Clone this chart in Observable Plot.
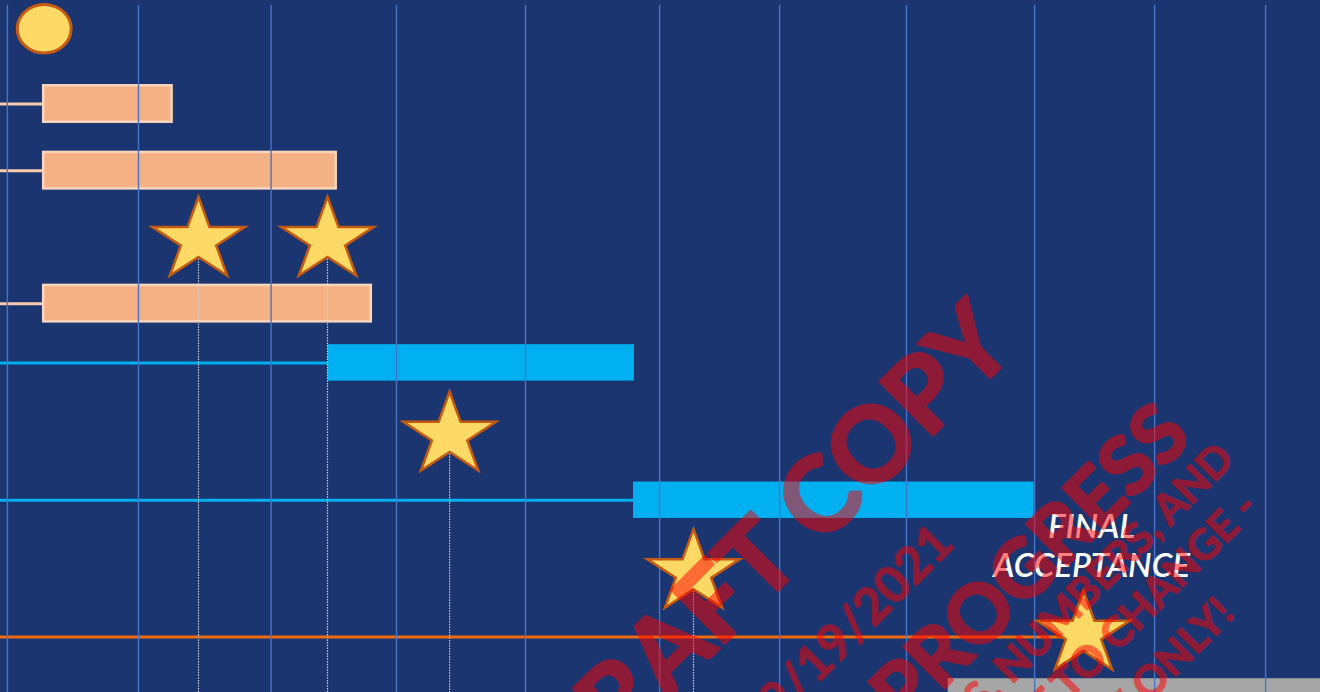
<!DOCTYPE html>
<html>
<head>
<meta charset="utf-8">
<script src="https://cdn.jsdelivr.net/npm/d3@7"></script>
<script src="https://cdn.jsdelivr.net/npm/@observablehq/plot@0.6"></script>
<style>
  html, body { margin: 0; padding: 0; background: #1b3570; overflow: hidden; }
  #chart svg { display: block; overflow: hidden; }
</style>
</head>
<body>
<div id="chart"></div>
<script>
// ---- data (x in weeks, y in timeline rows) ----
const gridWeeks = [0.23, 4.6, 9.02, 13.2, 17.5, 21.97, 25.97, 30.2, 34.47, 38.47, 42.17];

const taskNames = ["Task A", "Task B", "Task C", "Phase 1", "Phase 2"];
const taskStart = [1.44, 1.44, 1.44, 10.92, 21.1];
const taskEnd   = [5.72, 11.19, 12.36, 21.13, 34.45];
const taskRow   = [1.545, 2.54, 4.525, 5.41, 7.46];
const taskKind  = ["prep", "prep", "prep", "build", "build"];

const kickoffX = [1.457];
const kickoffRow = [0.422];

const starX    = [6.6, 10.9, 14.97, 23.1, 36.1];
const starRow  = [3.58, 3.58, 6.49, 8.54, 9.46];
const starDrop = [true, true, true, true, false];

const baselineStart = [0];
const baselineEnd   = [36.1];
const baselineRow   = [9.503];

const footerStart = [31.59];
const footerEnd = [44];
const footerRow1 = [10.124];
const footerRow2 = [10.33];

const labelText = ["FINAL\nACCEPTANCE"];
const labelX = [36.37];
const labelRow = [8.13];

const wmText = ["DRAFT COPY", "09/19/2021", "WORK IN PROGRESS", "DATES, NUMBERS, AND", "SUBJECT TO CHANGE -", "FOR REVIEW ONLY!"];
const wmX    = [33.17, 31.47, 39.17, 40.87, 41.67, 40.87];
const wmY    = [4.85, 7.97, 6.27, 6.73, 7.46, 9.04];
const wmSize = [104, 50, 80, 42, 42, 42];

// ---- build tables ----
const tasks = taskNames.map((name, i) => ({name, start: taskStart[i], end: taskEnd[i], row: taskRow[i], kind: taskKind[i]}));
const kickoff = kickoffX.map((x, i) => ({x, row: kickoffRow[i]}));
const stars = starX.map((x, i) => ({x, row: starRow[i], drop: starDrop[i]}));
const baseline = baselineStart.map((s, i) => ({start: s, end: baselineEnd[i], row: baselineRow[i]}));
const footer = footerStart.map((s, i) => ({start: s, end: footerEnd[i], r1: footerRow1[i], r2: footerRow2[i]}));
const labels = labelText.map((t, i) => ({text: t, x: labelX[i], row: labelRow[i]}));
const watermark = wmText.map((t, i) => ({text: t, x: wmX[i], row: wmY[i], size: wmSize[i]}));

// ---- custom symbols ----
const starSymbol = {
  draw(context, size) {
    const R = Math.sqrt(size / Math.PI);
    const sx = 1.12;
    for (let i = 0; i < 10; i++) {
      const a = -Math.PI / 2 + i * Math.PI / 5;
      const r = i % 2 === 0 ? R : R * 0.382;
      const px = Math.cos(a) * r * sx, py = Math.sin(a) * r;
      if (i === 0) context.moveTo(px, py); else context.lineTo(px, py);
    }
    context.closePath();
  }
};
const ellipseSymbol = {
  draw(context, size) {
    const R = Math.sqrt(size / Math.PI);
    const rx = R * 1.11, ry = R;
    const k = 0.5523;
    context.moveTo(rx, 0);
    context.bezierCurveTo(rx, k * ry, k * rx, ry, 0, ry);
    context.bezierCurveTo(-k * rx, ry, -rx, k * ry, -rx, 0);
    context.bezierCurveTo(-rx, -k * ry, -k * rx, -ry, 0, -ry);
    context.bezierCurveTo(k * rx, -ry, rx, -k * ry, rx, 0);
    context.closePath();
  }
};

const kindFill = {prep: "#f4b183", build: "#00b0f0"};
const kindStroke = {prep: "#fbd5bd", build: "#00b0f0"};
const kindLine = {prep: "#f8cbad", build: "#00b0f0"};

const chart = Plot.plot({
  width: 1320,
  height: 692,
  margin: 0,
  style: {background: "#1b3570", overflow: "hidden"},
  x: {domain: [0, 44], axis: null},
  y: {domain: [0, 10.33], reverse: true, axis: null},
  marks: [
    // footer band
    Plot.rect(footer, {x1: "start", x2: "end", y1: "r1", y2: "r2", fill: "#a6a6a6"}),
    // lead-in lines
    Plot.ruleY(tasks, {y: "row", x1: 0, x2: "start", stroke: d => kindLine[d.kind], strokeWidth: 3}),
    Plot.ruleY(baseline, {y: "row", x1: "start", x2: "end", stroke: "#f06a0f", strokeWidth: 3}),
    // bars
    Plot.rect(tasks, {
      x1: "start", x2: "end",
      y1: d => d.row - 0.272, y2: d => d.row + 0.272,
      fill: d => kindFill[d.kind],
      stroke: d => kindStroke[d.kind],
      strokeWidth: d => d.kind === "prep" ? 2.5 : 0
    }),
    // gridlines
    Plot.ruleX(gridWeeks, {y1: 0.07, y2: 10.33, stroke: "#4674c8", strokeWidth: 1.4}),
    // drop lines from milestones
    Plot.ruleX(stars.filter(d => d.drop), {x: "x", y1: "row", y2: 10.33, stroke: "#c9d1e0", strokeWidth: 1.2, strokeDasharray: "1.5,1.2"}),
    // kickoff
    Plot.dot(kickoff, {x: "x", y: "row", r: 24.3, symbol: ellipseSymbol, fill: "#ffd966", stroke: "#c55a11", strokeWidth: 3}),
    // milestones
    Plot.dot(stars, {x: "x", y: "row", r: 43.5, symbol: starSymbol, fill: "#ffd966", stroke: "#c55a11", strokeWidth: 2.5}),
    // label
    Plot.text(labels, {
      x: "x", y: "row", text: "text",
      fill: "white", fontSize: 33, fontStyle: "italic", fontWeight: 600,
      fontFamily: "Lato, 'Noto Sans', sans-serif", lineHeight: 1.17, textAnchor: "middle", lineAnchor: "middle"
    }),
    // watermark
    Plot.text(watermark, {
      x: "x", y: "row", text: "text",
      fontSize: d => d.size,
      rotate: -45, textAnchor: "end", lineAnchor: "middle",
      fill: "#ff0000", stroke: "#ff0000", strokeWidth: d => d.size > 60 ? 3 : 1.4,
      strokeLinejoin: "round", opacity: 0.5,
      fontWeight: 700, fontFamily: "Lato, 'Noto Sans', sans-serif"
    })
  ]
});
document.getElementById("chart").append(chart);
</script>
</body>
</html>
